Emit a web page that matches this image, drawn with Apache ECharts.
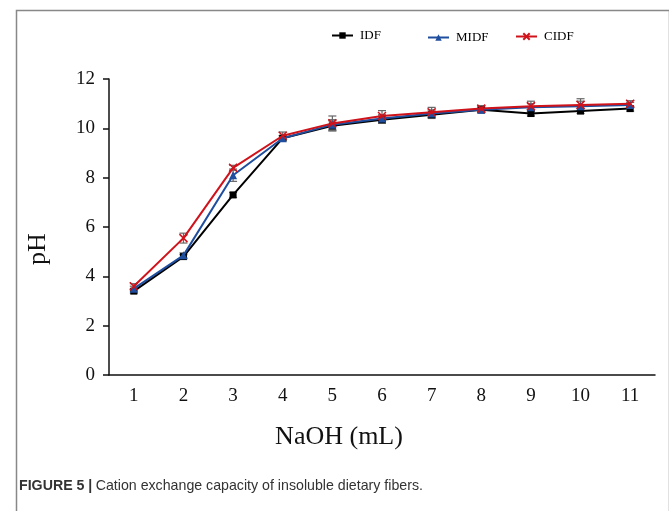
<!DOCTYPE html>
<html><head><meta charset="utf-8">
<script src="https://cdn.jsdelivr.net/npm/echarts@6/dist/echarts.min.js"></script>
<style>html,body{margin:0;padding:0;background:#fff}#c{width:669px;height:511px}</style>
</head><body><div id="c"></div>
<script>
var categories = ['1','2','3','4','5','6','7','8','9','10','11'];
var idf  = [3.4, 4.8, 7.3, 9.6, 10.1, 10.35, 10.55, 10.75, 10.6, 10.7, 10.8];
var midf = [3.5, 4.85, 8.1, 9.6, 10.15, 10.4, 10.6, 10.75, 10.85, 10.9, 10.95];
var cidf = [3.6, 5.55, 8.4, 9.7, 10.2, 10.5, 10.65, 10.8, 10.9, 10.95, 11.0];
var idfErr  = [0.08, 0.08, 0.1, 0.1, 0.2, 0.15, 0.15, 0.12, 0.1, 0.1, 0.1];
var midfErr = [0.1, 0.1, 0.25, 0.1, 0.2, 0.15, 0.15, 0.1, 0.15, 0.2, 0.1];
var cidfErr = [0.1, 0.2, 0.1, 0.15, 0.3, 0.22, 0.2, 0.12, 0.2, 0.25, 0.12];
var yTicks = [0, 2, 4, 6, 8, 10, 12];

var serif = 'Liberation Serif, Times New Roman, serif';
var sans = 'Liberation Sans, Arial, sans-serif';
function errData(vals, errs){ return vals.map(function(v,i){ return [i, v - errs[i], v + errs[i]]; }); }
function errSeries(vals, errs){
  return {
    type: 'custom', silent: true, z: 1,
    data: errData(vals, errs),
    renderItem: function(params, api){
      var x = api.value(0);
      var lo = api.coord([x, api.value(1)]);
      var hi = api.coord([x, api.value(2)]);
      var w = 4;
      var st = {stroke: '#666', lineWidth: 1.2};
      return {type:'group', children:[
        {type:'line', shape:{x1:lo[0],y1:lo[1],x2:hi[0],y2:hi[1]}, style:st},
        {type:'line', shape:{x1:lo[0]-w,y1:lo[1],x2:lo[0]+w,y2:lo[1]}, style:st},
        {type:'line', shape:{x1:hi[0]-w,y1:hi[1],x2:hi[0]+w,y2:hi[1]}, style:st}
      ]};
    }
  };
}
function legendAt(name, left, top){
  return {data:[name], left:left, top:top, itemWidth:21, itemHeight:8, itemGap:0,
    textStyle:{fontFamily: serif, fontSize: 13, color:'#000', padding:[0,0,0,2]}};
}
var chart = echarts.init(document.getElementById('c'), null, {renderer:'canvas'});
chart.setOption({
  animation: false,
  backgroundColor: '#fff',
  graphic: [
    {type:'rect', left:14, top:8, shape:{width:653, height:520}, style:{fill:'none', stroke:'#888', lineWidth:1.5}, z:-1},
    {type:'text', x:339, y:437, style:{text:'NaOH (mL)', font:'26px ' + serif, fill:'#111', textAlign:'center', textVerticalAlign:'middle'}},
    {type:'text', x:38, y:249, rotation:Math.PI/2, style:{text:'pH', font:'26px ' + serif, fill:'#111', textAlign:'center', textVerticalAlign:'middle'}},
    {type:'text', left:19, top:479, style:{
      text:'{b|FIGURE 5 |} {n|Cation exchange capacity of insoluble dietary fibers.}',
      rich:{
        b:{fontFamily:sans, fontWeight:'bold', fontSize:14.2, fill:'#333'},
        n:{fontFamily:sans, fontSize:14.2, fill:'#333'}
      }
    }}
  ],
  legend: [legendAt('IDF', 326, 24), legendAt('MIDF', 422, 26), legendAt('CIDF', 510, 25)],
  grid: {left: 109, top: 79, right: 14, bottom: 136},
  xAxis: {
    type: 'category', data: categories, boundaryGap: true,
    axisLine: {lineStyle: {color: '#111', width: 1.5}},
    axisTick: {alignWithLabel: true, length: 5, lineStyle: {color: '#111', width: 1.5}},
    axisLabel: {fontFamily: serif, fontSize: 19, color: '#111', margin: 12},
    splitLine: {show: false}
  },
  yAxis: {
    type: 'value', min: 0, max: 12, interval: 2,
    axisLine: {show: true, lineStyle: {color: '#111', width: 1.5}},
    axisTick: {show: true, length: 6, lineStyle: {color: '#111', width: 1.5}},
    axisLabel: {fontFamily: serif, fontSize: 19, color: '#111', margin: 14},
    splitLine: {show: false}
  },
  series: [
    errSeries(idf, idfErr), errSeries(midf, midfErr), errSeries(cidf, cidfErr),
    {name:'IDF', type:'line', data: idf, z: 3, symbol:'rect', symbolSize: 7,
      lineStyle:{color:'#000', width:2}, itemStyle:{color:'#000'}},
    {name:'MIDF', type:'line', data: midf, z: 4, symbol:'triangle', symbolSize: 8,
      lineStyle:{color:'#1f4e9e', width:2}, itemStyle:{color:'#1f4e9e'}},
    {name:'CIDF', type:'line', data: cidf, z: 5, symbol:'path://M0,0L10,10M10,0L0,10', symbolSize: 8,
      lineStyle:{color:'#d0121b', width:2}, itemStyle:{color:'#d0121b', borderColor:'#d0121b', borderWidth:1.5}}
  ]
});
</script>
</body></html>
